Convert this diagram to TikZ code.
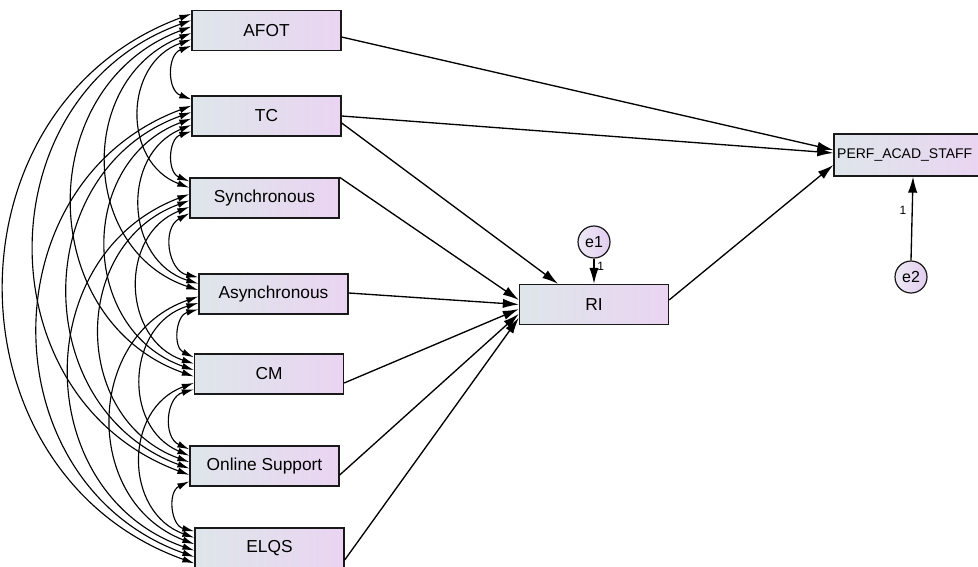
\documentclass[tikz,border=0pt]{standalone}
\usepackage{fontspec}
\setmainfont{Liberation Sans}
\usetikzlibrary{arrows.meta}
\definecolor{boxL}{RGB}{222,230,234}
\definecolor{boxR}{RGB}{234,212,242}
\definecolor{ovL}{RGB}{238,232,244}
\definecolor{ovR}{RGB}{226,206,240}
\begin{document}
\begin{tikzpicture}[x=0.75pt,y=-0.75pt,
  box/.style={draw=black!90, line width=1pt, left color=boxL, right color=boxR,
    minimum width=111.75pt, minimum height=30pt, inner sep=0pt,
    font=\fontsize{13}{15}\selectfont},
  errc/.style={circle, draw=black!90, line width=0.9pt, left color=ovL, right color=ovR,
    minimum size=24pt, inner sep=0pt, font=\fontsize{12}{14}\selectfont},
  pth/.style={line width=1pt, -{Latex[length=12pt,width=7pt]}},
  cov/.style={line width=0.85pt, {Latex[length=9pt,width=5pt]}-{Latex[length=9pt,width=5pt]}},
  one/.style={font=\fontsize{9}{10}\selectfont, inner sep=0pt}
]
\useasboundingbox (0,0) rectangle (978,567);
\clip (0,0) rectangle (978,567);

% exogenous boxes
\node[box] (v0) at (266.5,30.5) {AFOT};
\node[box] (v1) at (266.5,116) {TC};
\node[box] (v2) at (264.5,198) {Synchronous};
\node[box] (v3) at (273.5,294) {Asynchronous};
\node[box] (v4) at (269,374) {CM};
\node[box] (v5) at (264.5,466) {Online Support};
\node[box] (v6) at (269.5,548) {ELQS};

% endogenous
\node[box] (ri) at (594,304.5) {RI};
\node[box, text width=107pt, align=left, font=\fontsize{10.5}{12}\selectfont, minimum height=31.5pt]
  (perf) at (908.5,155) {PERF\_ACAD\_STAFF};

% errors
\node[errc] (e1) at (594,242) {e1};
\node[errc] (e2) at (911,277) {e2};

% regression paths
\draw[pth] ([yshift=-4.9pt]v0.east) -- ([yshift=3.75pt]perf.west);
\draw[pth] (v1.east) -- ([yshift=1.5pt]perf.west);
\draw[pth] ([yshift=-5.25pt]v1.east) -- ([xshift=-27pt]ri.north);
\draw[pth] (v2.north east) -- ([yshift=3.4pt]ri.west);
\draw[pth] ([yshift=0.75pt]v3.east) -- (ri.west);
\draw[pth] ([yshift=-6.75pt]v4.east) -- ([yshift=-3.4pt]ri.west);
\draw[pth] ([yshift=-6.75pt]v5.east) -- ([yshift=-7pt]ri.west);
\draw[pth] ([yshift=-9pt]v6.east) -- ([yshift=-10pt]ri.west);
\draw[pth] ([yshift=3.4pt]ri.east) -- ([yshift=-7.5pt]perf.west);
\draw[pth] (e1.south) -- (ri.north) node[one, pos=0.3, right=2pt] {1};
\draw[pth] (e2.north) -- ([xshift=3.4pt]perf.south) node[one, pos=0.6, left=4pt] {1};

% covariances
\foreach \i in {0,...,5}{
  \pgfmathtruncatemacro\js{\i+1}
  \foreach \j in {\js,...,6}{
    \pgfmathsetmacro\pa{-(4+6.4*(\i+6-\j))*0.75}
    \pgfmathsetmacro\pb{-(4+6.4*(\j-1-\i))*0.75}
    \draw[cov] ([yshift=\pa pt]v\i.north west) to[bend right=70,looseness=1.24] ([yshift=\pb pt]v\j.north west);
  }
}
\end{tikzpicture}
\end{document}
